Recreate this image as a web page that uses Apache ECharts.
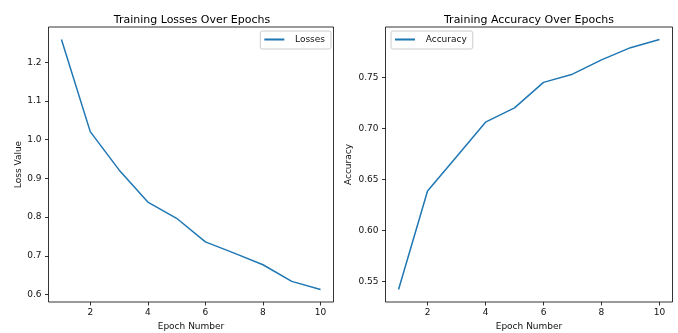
<!DOCTYPE html>
<html>
<head>
<meta charset="utf-8">
<script src="https://cdn.jsdelivr.net/npm/echarts@6/dist/echarts.min.js"></script>
<style>
  html, body { margin: 0; padding: 0; background: #fff; }
  #chart { width: 678px; height: 333px; }
</style>
</head>
<body>
<div id="chart"></div>
<script>
// Training history per epoch
const epochs = [1, 2, 3, 4, 5, 6, 7, 8, 9, 10];
const losses = [1.259, 1.021, 0.922, 0.839, 0.797, 0.736, 0.707, 0.677, 0.634, 0.613];
const accuracy = [0.542, 0.6385, 0.672, 0.706, 0.720, 0.745, 0.753, 0.767, 0.779, 0.787];

// Tick labels
const epochTicks = [2, 4, 6, 8, 10];
const lossTicks = [0.6, 0.7, 0.8, 0.9, 1.0, 1.1, 1.2];
const accTicks = [0.55, 0.60, 0.65, 0.70, 0.75];

const FONT = 'DejaVu Sans';
const TXT = '#111';
const BLUE = '#1f77b4';
const FS = 9;

// 5% padding on each side of the data range
function pad(arr, frac) {
  const lo = Math.min(...arr), hi = Math.max(...arr);
  const m = (hi - lo) * frac;
  return [lo - m, hi + m];
}
const xr = pad(epochs, 0.05);
const lr = pad(losses, 0.05);
const ar = pad(accuracy, 0.05);

function xAxis(gi) {
  return {
    type: 'value', gridIndex: gi, min: xr[0], max: xr[1],
    name: 'Epoch Number', nameLocation: 'middle', nameGap: 20,
    nameTextStyle: { fontFamily: FONT, fontSize: FS, color: TXT },
    axisLine: { show: false },
    splitLine: { show: false },
    axisTick: { show: true, length: 3.5, inside: false, customValues: epochTicks, lineStyle: { color: '#000', width: 0.8 } },
    axisLabel: { customValues: epochTicks, fontFamily: FONT, fontSize: FS, color: TXT, margin: 6, formatter: v => String(v) }
  };
}
function yAxis(gi, range, ticks, name, digits, gap) {
  return {
    type: 'value', gridIndex: gi, min: range[0], max: range[1],
    name: name, nameLocation: 'middle', nameGap: gap, nameRotate: 90,
    nameTextStyle: { fontFamily: FONT, fontSize: FS, color: TXT },
    axisLine: { show: false },
    splitLine: { show: false },
    axisTick: { show: true, length: 3.5, customValues: ticks, lineStyle: { color: '#000', width: 0.8 } },
    axisLabel: { customValues: ticks, fontFamily: FONT, fontSize: FS, color: TXT, margin: 7, formatter: v => v.toFixed(digits) }
  };
}
function legend(name, pos) {
  return Object.assign({
    data: [name], top: 31, orient: 'vertical',
    itemWidth: 20, itemHeight: 2,
    padding: [4, 6, 5, 3], borderColor: '#ccc', borderWidth: 1, borderRadius: 2,
    formatter: n => '  ' + n,
    textStyle: { fontFamily: FONT, fontSize: FS, color: TXT }
  }, pos);
}

const gridBase = { show: true, borderColor: '#000', borderWidth: 0.8, backgroundColor: 'transparent',
  containLabel: false, outerBoundsMode: 'none' };

const chart = echarts.init(document.getElementById('chart'), null, { renderer: 'canvas' });
chart.setOption({
  animation: false,
  backgroundColor: '#fff',
  title: [
    { text: 'Training Losses Over Epochs', left: 187, top: 10, textAlign: 'center',
      textStyle: { fontFamily: FONT, fontSize: 11, fontWeight: 'normal', color: '#000' } },
    { text: 'Training Accuracy Over Epochs', left: 524, top: 10, textAlign: 'center',
      textStyle: { fontFamily: FONT, fontSize: 11, fontWeight: 'normal', color: '#000' } }
  ],
  grid: [
    Object.assign({ left: 48.5, top: 27, width: 285, height: 275 }, gridBase),
    Object.assign({ left: 385.5, top: 27, width: 287, height: 275 }, gridBase)
  ],
  legend: [
    legend('Losses', { right: 678 - 331 }),
    legend('Accuracy', { left: 391 })
  ],
  xAxis: [xAxis(0), xAxis(1)],
  yAxis: [
    yAxis(0, lr, lossTicks, 'Loss Value', 1, 25),
    yAxis(1, ar, accTicks, 'Accuracy', 2, 32)
  ],
  series: [
    { name: 'Losses', type: 'line', xAxisIndex: 0, yAxisIndex: 0, symbol: 'none',
      lineStyle: { color: BLUE, width: 1.5 }, itemStyle: { color: BLUE },
      data: epochs.map((e, i) => [e, losses[i]]) },
    { name: 'Accuracy', type: 'line', xAxisIndex: 1, yAxisIndex: 1, symbol: 'none',
      lineStyle: { color: BLUE, width: 1.5 }, itemStyle: { color: BLUE },
      data: epochs.map((e, i) => [e, accuracy[i]]) }
  ]
});
</script>
</body>
</html>
